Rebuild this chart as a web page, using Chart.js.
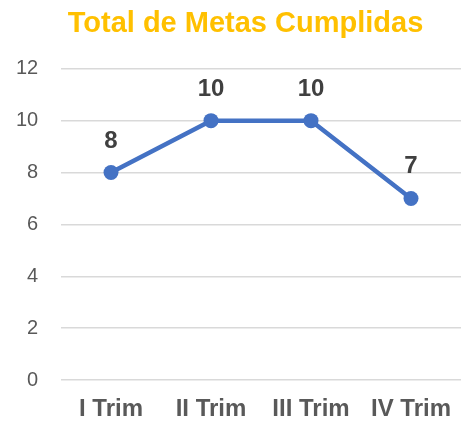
<!DOCTYPE html>
<html>
<head>
<meta charset="utf-8">
<script src="https://cdn.jsdelivr.net/npm/chart.js@4.4.0/dist/chart.umd.min.js"></script>
<style>
  html, body { margin: 0; padding: 0; background: #fff; }
  #wrap { width: 461px; height: 426px; }
</style>
</head>
<body>
<div id="wrap"><canvas id="chart"></canvas></div>
<script>
// chart data
const categories = ["I Trim", "II Trim", "III Trim", "IV Trim"];
const metas = [8, 10, 10, 7];
const yTicks = [0, 2, 4, 6, 8, 10, 12];

// draws the value above every point
const pointLabels = {
    id: "pointLabels",
    afterDatasetsDraw(chart) {
        const ctx = chart.ctx;
        const meta = chart.getDatasetMeta(0);
        ctx.save();
        ctx.font = "bold 24px 'Liberation Sans', Arial, sans-serif";
        ctx.fillStyle = "#404040";
        ctx.textAlign = "center";
        ctx.textBaseline = "alphabetic";
        meta.data.forEach((pt, i) => {
            ctx.fillText(String(metas[i]), pt.x, pt.y - 25);
        });
        ctx.restore();
    }
};

const ctx = document.getElementById("chart").getContext("2d");
new Chart(ctx, {
    type: "line",
    data: {
        labels: categories,
        datasets: [{
            label: "Metas",
            data: metas,
            borderColor: "#4472C4",
            backgroundColor: "#4472C4",
            borderWidth: 4.5,
            pointRadius: 7.5,
            pointBorderWidth: 0,
            pointHoverRadius: 7.5,
            tension: 0
        }]
    },
    options: {
        responsive: true,
        maintainAspectRatio: false,
        animation: false,
        layout: { autoPadding: false, padding: { left: 30, right: 0, top: 0, bottom: 0 } },
        plugins: {
            legend: { display: false },
            tooltip: { enabled: false },
            title: {
                display: true,
                text: "Total de Metas Cumplidas",
                color: "#FFC000",
                font: { family: "'Liberation Sans', Arial, sans-serif", size: 29, weight: "bold" },
                padding: { top: 7, bottom: 27 }
            }
        },
        scales: {
            x: {
                offset: true,
                grid: { display: false, drawTicks: false },
                border: { display: false },
                afterFit(scale) {
                    scale.height = 46;
                    scale.paddingLeft = 0;
                    scale.paddingRight = 0;
                },
                ticks: {
                    color: "#595959",
                    padding: 15,
                    font: { family: "'Liberation Sans', Arial, sans-serif", size: 24, weight: "bold" }
                }
            },
            y: {
                min: 0,
                max: 12,
                afterBuildTicks(scale) {
                    scale.ticks = yTicks.map(v => ({ value: v }));
                },
                afterFit(scale) { scale.width = 31; },
                grid: { color: "#D9D9D9", lineWidth: 1.5, drawTicks: false },
                border: { display: false },
                ticks: {
                    color: "#595959",
                    mirror: true,
                    crossAlign: "far",
                    padding: -45,
                    font: { family: "'Liberation Sans', Arial, sans-serif", size: 20 }
                }
            }
        }
    },
    plugins: [pointLabels]
});
</script>
</body>
</html>
